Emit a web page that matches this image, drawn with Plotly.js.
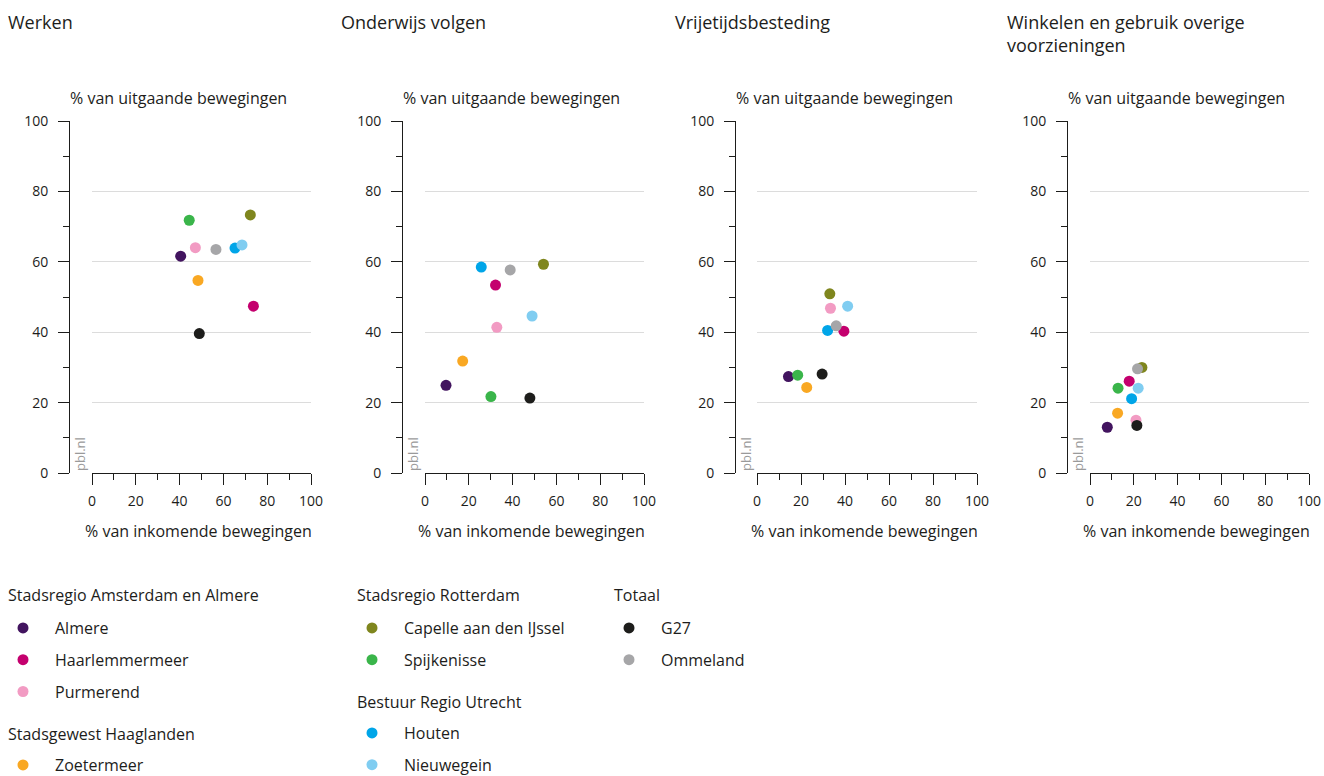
<!DOCTYPE html>
<html>
<head>
<meta charset="utf-8">
<script src="https://cdn.plot.ly/plotly-3.0.1.min.js"></script>
<style>
  html, body { margin: 0; padding: 0; background: #ffffff; }
  #chart { width: 1324px; height: 776px; }
</style>
</head>
<body>
<div id="chart"></div>
<script>
// Gemeenten en totalen
const cities = ['Almere', 'Haarlemmermeer', 'Purmerend', 'Zoetermeer',
  'Capelle aan den IJssel', 'Spijkenisse', 'Houten', 'Nieuwegein', 'G27', 'Ommeland'];
const cityColors = ['#42145f', '#c4006e', '#f29bc3', '#f9a823',
  '#7f861e', '#3ab54a', '#00a5e8', '#80cdf1', '#1d1d1b', '#a6a6a8'];

// Regio-indeling voor de legenda (indices in cities)
const regionTitles = ['Stadsregio Amsterdam en Almere', 'Stadsgewest Haaglanden',
  'Stadsregio Rotterdam', 'Bestuur Regio Utrecht', 'Totaal'];
const regionMembers = [[0, 1, 2], [3], [4, 5], [6, 7], [8, 9]];

// Motieven
const motiveTitles = ['Werken', 'Onderwijs volgen', 'Vrijetijdsbesteding',
  'Winkelen en gebruik overige<br>voorzieningen'];

// % van inkomende (x) en uitgaande (y) bewegingen per motief
const werkenIn   = [40.5, 73.7, 47.2, 48.4, 72.3, 44.4, 65.3, 68.5, 49.0, 56.6];
const werkenUit  = [61.6, 47.4, 64.0, 54.7, 73.3, 71.8, 63.9, 64.8, 39.6, 63.5];
const onderwijsIn  = [9.6, 32.2, 32.8, 17.2, 54.1, 30.1, 25.7, 48.9, 47.9, 38.9];
const onderwijsUit = [24.9, 53.4, 41.4, 31.8, 59.3, 21.7, 58.5, 44.6, 21.3, 57.7];
const vrijetijdIn  = [14.3, 39.5, 33.4, 22.6, 33.1, 18.5, 32.1, 41.2, 29.6, 36.0];
const vrijetijdUit = [27.4, 40.3, 46.8, 24.3, 50.9, 27.8, 40.5, 47.4, 28.1, 41.8];
const winkelenIn   = [7.9, 17.9, 21.0, 12.6, 23.7, 12.8, 19.0, 22.0, 21.4, 21.7];
const winkelenUit  = [13.0, 26.1, 15.0, 17.0, 30.0, 24.1, 21.1, 24.1, 13.5, 29.6];

const axisTicks = [0, 20, 40, 60, 80, 100];
const xTitle = '% van inkomende bewegingen';
const yTitle = '% van uitgaande bewegingen';

const motiveData = [
  [werkenIn, werkenUit],
  [onderwijsIn, onderwijsUit],
  [vrijetijdIn, vrijetijdUit],
  [winkelenIn, winkelenUit]
];

// ---- opmaak ----
const W = 1324, H = 776;
const fx = v => v / W;
const fy = v => 1 - v / H;
const FONT = 'Open Sans, Noto Sans, sans-serif';
const INK = '#1d1d1b';

// pixelposities per paneel: plotgebied links/rechts, y-as lijn, titel
const panelBox = [
  { left: 92,   right: 311,  yLine: 69,   titleX: 6 },
  { left: 425,  right: 644,  yLine: 402,  titleX: 339 },
  { left: 757,  right: 977,  yLine: 735,  titleX: 673 },
  { left: 1090, right: 1309, yLine: 1067, titleX: 1005 }
];
const plotTop = 121, plotBottom = 473;

const legendIds = ['legend', 'legend2', 'legend3', 'legend4', 'legend5'];
const legendOf = cities.map((c, i) => regionMembers.findIndex(m => m.includes(i)));

const traces = [];
motiveData.forEach((md, k) => {
  const sfx = k === 0 ? '' : String(k + 1);
  cities.forEach((name, i) => {
    traces.push({
      type: 'scatter',
      mode: 'markers',
      x: [md[0][i]],
      y: [md[1][i]],
      xaxis: 'x' + sfx,
      yaxis: 'y' + sfx,
      name: name,
      legendgroup: name,
      legend: legendIds[legendOf[i]],
      showlegend: k === 0,
      marker: { color: cityColors[i], size: 11, line: { width: 0 } },
      cliponaxis: false,
      hovertemplate: name + '<br>inkomend: %{x}%<br>uitgaand: %{y}%<extra></extra>'
    });
  });
});

const layout = {
  width: W,
  height: H,
  margin: { l: 0, r: 0, t: 0, b: 0, autoexpand: false },
  paper_bgcolor: '#ffffff',
  plot_bgcolor: 'rgba(0,0,0,0)',
  font: { family: FONT, color: INK, size: 16 },
  showlegend: true,
  annotations: [],
  hovermode: 'closest'
};

panelBox.forEach((b, k) => {
  const sfx = k === 0 ? '' : String(k + 1);
  layout['xaxis' + sfx] = {
    domain: [fx(b.left), fx(b.right)],
    range: [0, 100],
    anchor: 'y' + sfx,
    tickmode: 'array',
    tickvals: axisTicks,
    ticktext: axisTicks.map(String),
    ticks: 'outside', ticklen: 11, tickwidth: 1, tickcolor: INK,
    minor: { dtick: 10, tick0: 0, ticks: 'outside', ticklen: 6, tickwidth: 1, tickcolor: INK, showgrid: false },
    showline: true, linecolor: INK, linewidth: 1,
    showgrid: false, zeroline: false,
    tickfont: { family: FONT, size: 14, color: INK },
    ticklabelstandoff: 4,
    fixedrange: true
  };
  layout['yaxis' + sfx] = {
    domain: [fy(plotBottom), fy(plotTop)],
    range: [0, 100],
    anchor: 'free',
    position: fx(b.yLine),
    tickmode: 'array',
    tickvals: axisTicks,
    ticktext: axisTicks.map(String),
    ticks: 'outside', ticklen: 11, tickwidth: 1, tickcolor: INK,
    minor: { dtick: 10, tick0: 0, ticks: 'outside', ticklen: 6, tickwidth: 1, tickcolor: INK, showgrid: false },
    showline: true, linecolor: INK, linewidth: 1,
    showgrid: true, gridcolor: '#dcdcdc', gridwidth: 1,
    zeroline: false,
    tickfont: { family: FONT, size: 14, color: INK },
    ticklabelstandoff: 7,
    fixedrange: true
  };

  layout.annotations.push(
    { text: motiveTitles[k], xref: 'paper', yref: 'paper', x: fx(b.titleX), y: fy(8),
      xanchor: 'left', yanchor: 'top', align: 'left', showarrow: false,
      font: { family: FONT, size: 18, color: INK } },
    { text: yTitle, xref: 'paper', yref: 'paper', x: fx(b.yLine - 1), y: fy(98),
      xanchor: 'left', yanchor: 'middle', showarrow: false,
      font: { family: FONT, size: 16, color: INK } },
    { text: xTitle, xref: 'paper', yref: 'paper', x: fx(b.right + 3), y: fy(531),
      xanchor: 'right', yanchor: 'middle', showarrow: false,
      font: { family: FONT, size: 16, color: INK } },
    { text: 'pbl.nl', xref: 'paper', yref: 'paper', x: fx(b.yLine + 11), y: fy(plotBottom),
      xanchor: 'center', yanchor: 'bottom', textangle: -90, showarrow: false,
      font: { family: FONT, size: 13, color: '#9a9a9a' } }
  );
});

// legenda's per regio: kop als tekst, gemeenten als legenda-items
const legendPos = [
  { x: 8,   title: 595, first: 627 },
  { x: 8,   title: 734, first: 764 },
  { x: 357, title: 595, first: 627 },
  { x: 357, title: 702, first: 732 },
  { x: 614, title: 595, first: 627 }
];
legendIds.forEach((id, r) => {
  const p = legendPos[r];
  layout.annotations.push({
    text: regionTitles[r], xref: 'paper', yref: 'paper', x: fx(p.x - 2), y: fy(p.title),
    xanchor: 'left', yanchor: 'middle', showarrow: false,
    font: { family: FONT, size: 16, color: INK }
  });
  layout[id] = {
    x: fx(p.x - 2), y: fy(p.first - 16),
    xanchor: 'left', yanchor: 'top',
    orientation: 'v',
    traceorder: 'grouped',
    tracegroupgap: 8,
    itemwidth: 54,
    indentation: -15,
    bgcolor: 'rgba(0,0,0,0)',
    borderwidth: 0,
    font: { family: FONT, size: 16, color: INK },
    itemclick: false, itemdoubleclick: false
  };
});

Plotly.newPlot('chart', traces, layout, { displayModeBar: false, responsive: false });
</script>
</body>
</html>
